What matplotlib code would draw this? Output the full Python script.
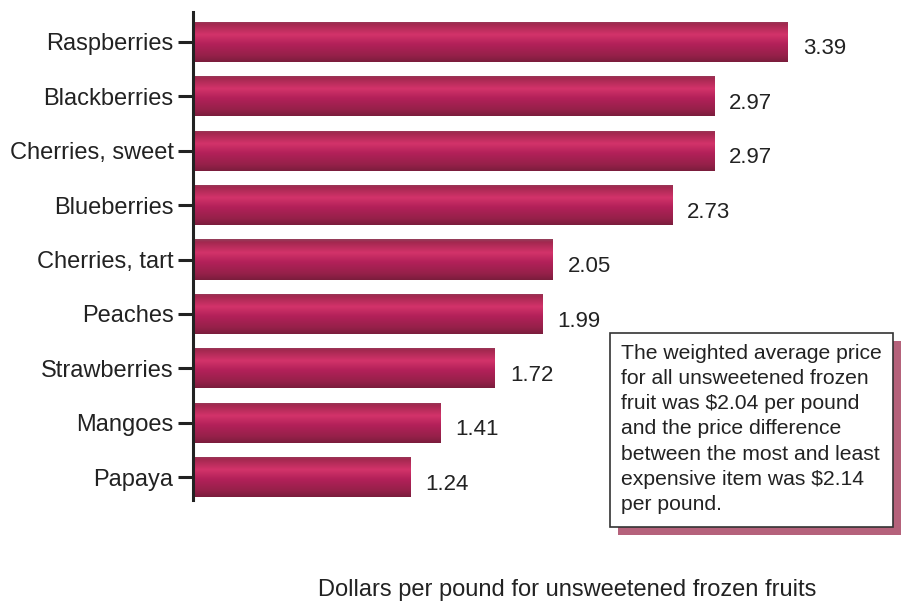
import numpy as np
import matplotlib
matplotlib.use('Agg')
import matplotlib.pyplot as plt
from matplotlib.colors import LinearSegmentedColormap
from matplotlib.patches import Rectangle

# данные
fruits = ['Raspberries', 'Blackberries', 'Cherries, sweet', 'Blueberries',
          'Cherries, tart', 'Peaches', 'Strawberries', 'Mangoes', 'Papaya']
prices = [3.39, 2.97, 2.97, 2.73, 2.05, 1.99, 1.72, 1.41, 1.24]
note = ('The weighted average price\n'
        'for all unsweetened frozen\n'
        'fruit was $2.04 per pound\n'
        'and the price difference\n'
        'between the most and least\n'
        'expensive item was $2.14\n'
        'per pound.')
xlabel = 'Dollars per pound for unsweetened frozen fruits'

plt.rcParams['font.family'] = ['Liberation Sans', 'DejaVu Sans']

W, H = 904, 603
fig = plt.figure(figsize=(W / 100, H / 100), dpi=100)

# оси в пикселях: левая граница 193, верх 12, низ 500
ax = fig.add_axes([193 / W, (H - 500) / H, 702 / W, 488 / H])
ax.set_xlim(0, 4.0)
ax.set_ylim(8.42, -0.55)

# вертикальный градиент для столбиков
grad = LinearSegmentedColormap.from_list('bar', [
    (0.00, '#93415c'),
    (0.07, '#a2284f'),
    (0.33, '#d3336a'),
    (0.55, '#b4215a'),
    (0.85, '#952049'),
    (1.00, '#7a1d3c'),
])
gimg = np.linspace(0, 1, 256).reshape(-1, 1)

y = np.arange(len(fruits))
bars = ax.barh(y, prices, height=0.74, color='#b4215a', edgecolor='none')
for bar, val in zip(bars, prices):
    y0 = bar.get_y()
    y1 = y0 + bar.get_height()
    im = ax.imshow(gimg, cmap=grad, aspect='auto',
                   extent=(0, val, y1, y0), origin='upper', zorder=2)
    im.set_clip_path(bar)
    ax.text(val + 0.085, bar.get_y() + bar.get_height() / 2 + 0.13,
            f'{val:.2f}', va='center', ha='left', fontsize=16, color='#222222')

ax.set_yticks(y)
ax.set_yticklabels(fruits, fontsize=17, color='#222222')
ax.tick_params(axis='y', length=11, width=2.2, color='#222222', pad=3)
ax.set_xticks([])

for s in ['top', 'right', 'bottom']:
    ax.spines[s].set_visible(False)
ax.spines['left'].set_linewidth(2.2)
ax.spines['left'].set_color('#222222')

# рамка с пояснением и тенью
bx0, by0, bw, bh = 610, 76, 283, 194
fig.patches.append(Rectangle(((bx0 + 8) / W, (by0 - 8) / H), bw / W, bh / H,
                             transform=fig.transFigure, facecolor='#b5627b',
                             edgecolor='none', zorder=3))
fig.patches.append(Rectangle((bx0 / W, by0 / H), bw / W, bh / H,
                             transform=fig.transFigure, facecolor='white',
                             edgecolor='#333333', linewidth=1.2, zorder=4))
fig.text((bx0 + 11) / W, (by0 + bh - 11) / H, note, ha='left', va='top',
         fontsize=15.2, color='#222222', linespacing=1.41, zorder=5)

fig.text(567 / W, (H - 590) / H, xlabel, ha='center', va='center',
         fontsize=17, color='#222222')

fig.savefig('out.png', dpi=100)
